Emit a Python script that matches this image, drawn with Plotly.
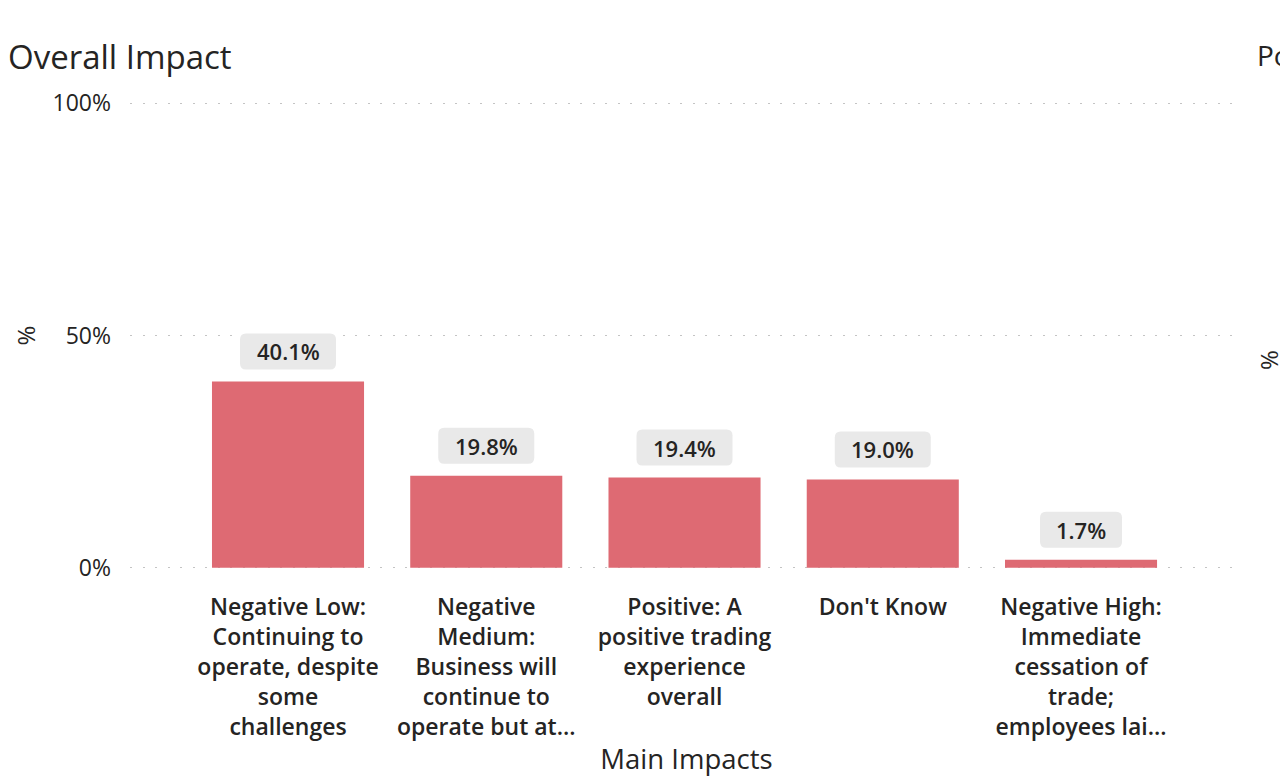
import plotly.graph_objects as go

# Survey results: overall impact on businesses
categories = [
    "Negative Low:<br>Continuing to<br>operate, despite<br>some<br>challenges",
    "Negative<br>Medium:<br>Business will<br>continue to<br>operate but at...",
    "Positive: A<br>positive trading<br>experience<br>overall",
    "Don't Know",
    "Negative High:<br>Immediate<br>cessation of<br>trade;<br>employees lai...",
]
shares = [40.1, 19.8, 19.4, 19.0, 1.7]
y_ticks = [0, 50, 100]
y_tick_text = ["0%", "50%", "100%"]

BAR = "#DE6A73"
INK = "#252423"
PILL = "#E9E9E9"
FONT = "Open Sans"

W, H = 1280, 778
TOP, BOTTOM = 101, 570
fig = go.Figure()
fig.add_trace(go.Bar(
    x=list(range(len(categories))),
    y=shares,
    width=0.767,
    marker=dict(color=BAR, line=dict(width=0)),
    hoverinfo="skip",
))

# Value labels inside rounded grey pills, anchored to each bar's top
for i, v in enumerate(shares):
    label = f"{v:.1f}%"
    half = (14 * len(label) + 26) / 2
    r = 6
    y0, y1 = 12, 48
    path = (
        f"M {-half + r},{y0} L {half - r},{y0} Q {half},{y0} {half},{y0 + r} "
        f"L {half},{y1 - r} Q {half},{y1} {half - r},{y1} "
        f"L {-half + r},{y1} Q {-half},{y1} {-half},{y1 - r} "
        f"L {-half},{y0 + r} Q {-half},{y0} {-half + r},{y0} Z"
    )
    fig.add_shape(
        type="path", path=path,
        xref="x", yref="y", xsizemode="pixel", ysizemode="pixel",
        xanchor=i, yanchor=v,
        fillcolor=PILL, line=dict(width=0), layer="above",
    )
    fig.add_annotation(
        x=i, y=v, xref="x", yref="y", text=label, showarrow=False,
        yshift=30, font=dict(family=FONT, size=22, weight=600, color=INK),
    )

fig.update_layout(
    width=W, height=H,
    margin=dict(l=130, r=37, t=TOP, b=H - BOTTOM, autoexpand=False),
    paper_bgcolor="white", plot_bgcolor="white",
    showlegend=False,
    font=dict(family=FONT, color=INK),
    title=dict(
        text="Overall Impact", x=8 / W, xanchor="left",
        yref="container", y=1 - 57 / H, yanchor="middle",
        font=dict(family=FONT, size=33, color=INK),
    ),
    xaxis=dict(
        tickmode="array", tickvals=list(range(len(categories))), ticktext=categories,
        range=[-0.797, len(categories) - 1 + 0.817],
        showgrid=False, zeroline=False, showline=False, ticks="",
        tickfont=dict(family=FONT, size=23, weight=600, color=INK),
        ticklabelstandoff=21, automargin=False,
        title=dict(text="Main Impacts", font=dict(family=FONT, size=27.5, color=INK), standoff=9),
    ),
    yaxis=dict(
        range=[-0.5, 100.5], tickvals=y_ticks, ticktext=y_tick_text,
        showgrid=True, gridcolor="#C4C4C4", gridwidth=1, griddash="2px,10.5px",
        zeroline=False, showline=False, ticks="",
        tickfont=dict(family=FONT, size=23, color=INK),
        ticklabelstandoff=18, automargin=False,
    ),
)

# Rotated y-axis title and the start of the neighbouring panel
fig.add_annotation(
    xref="paper", yref="paper", x=0, y=0.5, xshift=-105, xanchor="center",
    text="%", textangle=-90,
    showarrow=False, font=dict(family=FONT, size=24, color=INK),
)
fig.add_annotation(
    xref="paper", yref="paper", x=1, y=0.5, xshift=44, yshift=-25, text="%", textangle=-90,
    showarrow=False, font=dict(family=FONT, size=24, color=INK),
)
fig.add_annotation(
    xref="paper", yref="paper", x=1, y=(BOTTOM - 55) / (BOTTOM - TOP), xshift=12,
    xanchor="left", yanchor="middle", text="Po", showarrow=False,
    font=dict(family=FONT, size=28, color=INK),
)

fig.write_html("out.html")
